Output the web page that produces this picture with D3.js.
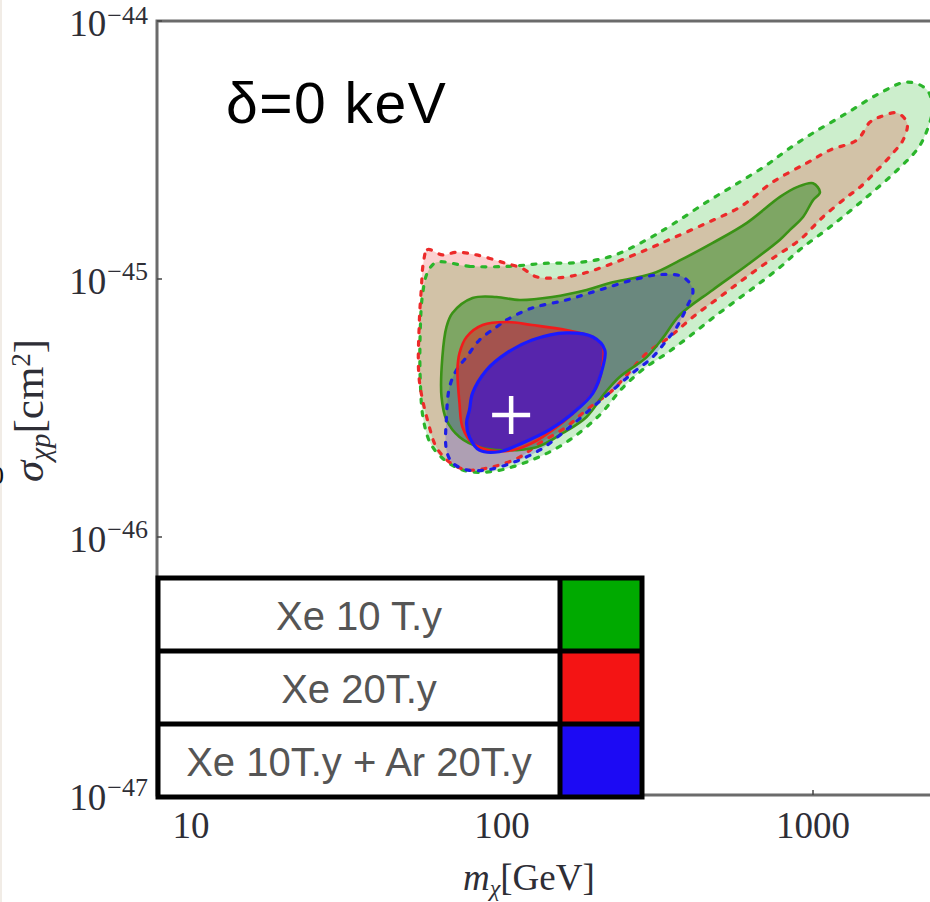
<!DOCTYPE html>
<html>
<head>
<meta charset="utf-8">
<script src="https://cdn.jsdelivr.net/npm/d3@7"></script>
<style>
  body { margin: 0; background: #fff; }
  svg { display: block; }
</style>
</head>
<body>
<svg id="chart" width="930" height="902"></svg>
<script>
// ---- data -----------------------------------------------------------------
// Axis ticks
const xTickValues = [10, 100, 1000];            // m_chi [GeV]
const yTickExponents = [-44, -45, -46, -47];     // sigma_chi-p [cm^2] decades

// Legend
const seriesNames = ["Xe 10 T.y", "Xe 20T.y", "Xe 10T.y + Ar 20T.y"];
const seriesColors = ["#00aa00", "#f41414", "#1c0af4"];

// Reconstructed regions: [m_chi (GeV), sigma (units of 1e-46 cm^2)]
const SIGMA_UNIT = 1e-46;

// Xe 10 T.y, outer (dashed) region
const xe10Outer = [
  [61.5,11.6],[78.6,11.2],[105.7,11.2],[137,11.5],[178,11.6],[227,12.3],[292,14.2],
  [354,16.3],[456,19.9],[582,23.8],[711,27.7],[825,31.6],[1000,36.8],[1287,44.0],
  [1644,52.6],[2008,58.0],[2329,54.0],[2417,45.2],[2329,37.8],[2179,32.2],[1864,26.4],
  [1449,20.2],[1134,15.9],[908,13.0],[783,11.1],[675,9.65],[569,8.29],[476,7.06],
  [402,6.01],[339,5.16],[288,4.52],[244,3.78],[206,2.97],[161,2.33],[125,1.99],
  [94.6,1.80],[76.9,1.80],[66.8,1.95],[59.3,2.27],[55.9,2.84],[54.6,4.06],[54.6,6.34],
  [55.5,8.67],[57.6,10.6]
];
// Xe 20 T.y, outer (dashed) region
const xe20Outer = [
  [55.9,11.6],[57.6,13.0],[64.3,12.4],[71.4,12.7],[82.8,12.4],[100.4,11.6],[116,11.0],
  [129,10.2],[150,10.1],[182,10.5],[227,11.5],[292,13.0],[354,14.4],[456,16.5],
  [582,19.0],[744,23.8],[957,28.2],[1134,31.6],[1386,34.6],[1526,40.6],[1644,42.5],
  [1864,44.0],[2008,40.2],[1949,34.6],[1809,30.8],[1608,26.4],[1417,22.7],[1287,20.8],
  [1077,17.4],[908,14.2],[755,12.2],[613,10.2],[502,8.52],[411,7.12],[346,5.96],
  [292,5.16],[244,4.06],[227,3.71],[187,3.11],[161,2.67],[132,2.31],[114,2.04],
  [93.2,1.87],[76.9,1.82],[67.8,1.95],[61.5,2.23],[58.4,2.67],[54.2,4.06],[54.2,6.75],
  [55.0,9.07]
];
// Xe 10T.y + Ar 20T.y, outer (dashed) region
const xeArOuter = [
  [96.0,6.52],[103.4,6.94],[125,7.72],[161,8.29],[206,9.07],[263,9.91],[322,10.4],
  [381,10.2],[411,9.07],[393,7.79],[365,6.52],[339,5.80],[305,4.98],[263,4.32],
  [227,3.71],[196,3.19],[161,2.60],[132,2.17],[108,1.94],[89.2,1.82],[76.9,1.82],
  [69.3,1.94],[66.3,2.17],[66.3,2.92],[67.8,3.81],[71.4,4.44],[76.9,4.98],[84.6,5.80]
];
// Xe 10 T.y, inner (solid) region
const xe10Inner = [
  [69.3,7.38],[80.4,8.44],[96.0,8.52],[114,8.29],[145,8.52],[187,9.07],[222,9.65],
  [305,10.5],[373,11.8],[476,13.8],[613,16.5],[783,20.8],[888,22.7],[1000,23.5],
  [1053,21.7],[1000,20.2],[929,17.4],[843,15.5],[783,14.2],[613,11.3],[476,9.07],
  [373,7.25],[329,5.91],[292,4.98],[239,4.17],[214,3.61],[187,2.92],[157,2.53],
  [129,2.23],[100.4,2.17],[84.6,2.23],[73.0,2.44],[66.3,2.84],[63.9,3.49],[64.3,4.98],
  [66.3,6.52]
];
// Xe 20 T.y, inner (solid) region
const xe20Inner = [
  [73.0,5.16],[76.9,5.96],[86.6,6.63],[103.4,6.81],[125,6.63],[161,6.34],[196,5.96],
  [211,5.45],[211,4.72],[201.5,3.81],[178,3.19],[150,2.67],[125,2.31],[108,2.17],
  [91.1,2.17],[80.4,2.31],[74.6,2.67],[73.0,3.30],[71.9,4.44]
];
// Xe 10T.y + Ar 20T.y, inner (solid) region
const xeArInner = [
  [78.6,3.11],[80.4,3.61],[89.2,4.44],[103.4,5.16],[125,5.80],[161,6.18],[196,5.96],
  [214,5.31],[211,4.56],[196,3.61],[169,3.02],[142,2.60],[116,2.31],[98.1,2.14],
  [84.6,2.17],[78.6,2.44],[76.9,2.77]
];
// Benchmark point
const benchmark = [107, 2.97];

// ---- layout ---------------------------------------------------------------
const plot = { left: 157, top: 21, bottom: 795, right: 960 };
const svg = d3.select("#chart");

const x = d3.scaleLog().domain([10, 1000]).range([191, 813]);
const y = d3.scaleLog().domain([1e-47, 1e-44]).range([plot.bottom, plot.top]);

const serif = "'Liberation Serif', 'Times New Roman', serif";
const sans = "'Liberation Sans', Arial, Helvetica, sans-serif";

// faint page edge on the left
svg.append("rect").attr("x", 0).attr("y", 0).attr("width", 2).attr("height", 902)
  .attr("fill", "#f1ece6");

// clipped plotting area
svg.append("clipPath").attr("id", "plotClip").append("rect")
  .attr("x", plot.left).attr("y", plot.top)
  .attr("width", plot.right - plot.left).attr("height", plot.bottom - plot.top);

const area = svg.append("g").attr("clip-path", "url(#plotClip)");

const line = d3.line()
  .x(d => x(d[0]))
  .y(d => y(d[1] * SIGMA_UNIT))
  .curve(d3.curveCatmullRomClosed.alpha(0.5));

const regions = [
  { data: xe10Outer, fill: "rgb(0,170,0)",  fo: 0.2,  stroke: "#2bb52b", sw: 3.2, dash: "4 8.5" },
  { data: xe20Outer, fill: "rgb(235,20,20)", fo: 0.2, stroke: "#ec2a2a", sw: 3.2, dash: "4 8.5" },
  { data: xe10Inner, fill: "rgb(0,125,0)",  fo: 0.4,  stroke: "#3a9216", sw: 2.6, dash: null },
  { data: xeArOuter, fill: "rgb(30,20,230)", fo: 0.2, stroke: "#1e1ee6", sw: 3.2, dash: "4 8.5" },
  { data: xe20Inner, fill: "rgb(235,20,20)", fo: 0.45, stroke: "#f01c1c", sw: 2.6, dash: null },
  { data: xeArInner, fill: "rgb(40,10,230)", fo: 0.62, stroke: "#1a1aff", sw: 3.2, dash: null }
];

regions.forEach(r => {
  area.append("path")
    .attr("d", line(r.data))
    .attr("fill", r.fill)
    .attr("fill-opacity", r.fo)
    .attr("stroke", "none");
});
regions.forEach(r => {
  area.append("path")
    .attr("d", line(r.data))
    .attr("fill", "none")
    .attr("stroke", r.stroke)
    .attr("stroke-width", r.sw)
    .attr("stroke-linecap", "round")
    .attr("stroke-linejoin", "round")
    .attr("stroke-dasharray", r.dash);
});

// benchmark cross
const bx = x(benchmark[0]), by = y(benchmark[1] * SIGMA_UNIT), arm = 19;
area.append("path")
  .attr("d", `M${bx - arm},${by}H${bx + arm}M${bx},${by - arm}V${by + arm}`)
  .attr("stroke", "#fff").attr("stroke-width", 4.5).attr("fill", "none");

// frame
const frameColor = "#6b6b6b";
svg.append("path")
  .attr("d", `M${plot.right},${plot.top}H${plot.left}V${plot.bottom}H${plot.right}`)
  .attr("fill", "none").attr("stroke", frameColor).attr("stroke-width", 3);

// tick marks (inward)
xTickValues.forEach(v => {
  svg.append("line").attr("x1", x(v)).attr("x2", x(v))
    .attr("y1", plot.bottom).attr("y2", plot.bottom - 5)
    .attr("stroke", "#444").attr("stroke-width", 1.5);
});
yTickExponents.forEach(e => {
  svg.append("line").attr("x1", plot.left).attr("x2", plot.left + 5)
    .attr("y1", y(Math.pow(10, e))).attr("y2", y(Math.pow(10, e)))
    .attr("stroke", "#444").attr("stroke-width", 1.5);
});

// tick labels
const labelColor = "#2e2e36";
xTickValues.forEach(v => {
  svg.append("text")
    .attr("x", x(v)).attr("y", 838)
    .attr("text-anchor", "middle")
    .attr("font-family", serif).attr("font-size", 37)
    .attr("fill", labelColor)
    .text(v);
});
yTickExponents.forEach((e, i) => {
  const t = svg.append("text")
    .attr("x", 148).attr("y", y(Math.pow(10, e)) + 15)
    .attr("text-anchor", "end")
    .attr("font-family", serif).attr("fill", labelColor);
  t.append("tspan").attr("font-size", 37).text("10");
  t.append("tspan").attr("font-size", 26).attr("dy", i === 0 ? -12 : -14).attr("dx", 1)
    .text("\u2212" + Math.abs(e));
});

// axis titles
const xt = svg.append("text").attr("x", 463).attr("y", 890)
  .attr("font-family", serif).attr("font-size", 37).attr("fill", labelColor);
xt.append("tspan").attr("font-style", "italic").text("m");
xt.append("tspan").attr("font-style", "italic").attr("font-size", 24).attr("dy", 6).text("\u03c7");
xt.append("tspan").attr("dy", -6).text("[GeV]");

const yt = svg.append("text")
  .attr("transform", "translate(43,482) rotate(-90)")
  .attr("font-family", serif).attr("font-size", 43).attr("fill", labelColor);
yt.append("tspan").attr("font-style", "italic").text("\u03c3");
yt.append("tspan").attr("font-style", "italic").attr("font-size", 29).attr("dy", 7).text("\u03c7p");
yt.append("tspan").attr("dy", -7).text("[cm");
yt.append("tspan").attr("font-size", 27).attr("dy", -13).text("2");
yt.append("tspan").attr("dy", 13).text("]");

// partial label at the left page edge
svg.append("text").attr("x", -9).attr("y", 484)
  .attr("font-family", serif).attr("font-size", 26).attr("fill", "#111").text("0");

// panel title
svg.append("text").attr("x", 226).attr("y", 123)
  .attr("font-family", sans).attr("font-size", 57).attr("letter-spacing", 1.5)
  .attr("fill", "#000")
  .text("\u03b4=0 keV");

// legend table
const leg = { left: 158, right: 642, split: 560, top: 578, rowH: 73 };
const lg = svg.append("g");
lg.append("rect").attr("x", leg.left).attr("y", leg.top)
  .attr("width", leg.right - leg.left).attr("height", leg.rowH * 3)
  .attr("fill", "#fff");
seriesNames.forEach((name, i) => {
  const ry = leg.top + i * leg.rowH;
  lg.append("rect").attr("x", leg.split).attr("y", ry)
    .attr("width", leg.right - leg.split).attr("height", leg.rowH)
    .attr("fill", seriesColors[i]);
  lg.append("text").attr("x", (leg.left + leg.split) / 2).attr("y", ry + 52)
    .attr("text-anchor", "middle")
    .attr("font-family", sans).attr("font-size", 40).attr("fill", "#555")
    .text(name);
});
const bw = 5;
lg.append("rect").attr("x", leg.left).attr("y", leg.top)
  .attr("width", leg.right - leg.left).attr("height", leg.rowH * 3)
  .attr("fill", "none").attr("stroke", "#000").attr("stroke-width", bw);
[1, 2].forEach(i => {
  lg.append("line").attr("x1", leg.left).attr("x2", leg.right)
    .attr("y1", leg.top + i * leg.rowH).attr("y2", leg.top + i * leg.rowH)
    .attr("stroke", "#000").attr("stroke-width", bw);
});
lg.append("line").attr("x1", leg.split).attr("x2", leg.split)
  .attr("y1", leg.top).attr("y2", leg.top + leg.rowH * 3)
  .attr("stroke", "#000").attr("stroke-width", bw);
</script>
</body>
</html>
